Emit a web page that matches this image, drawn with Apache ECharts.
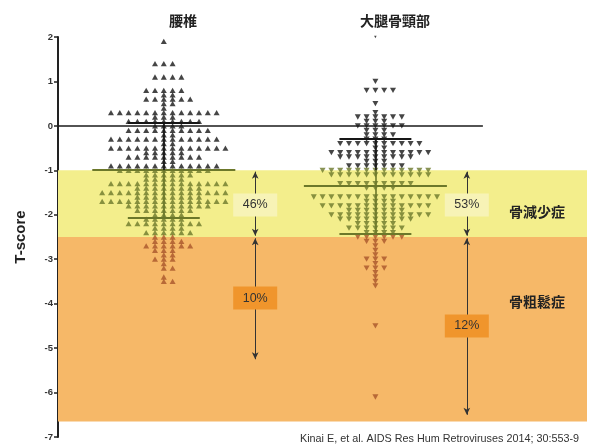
<!DOCTYPE html>
<html>
<head>
<meta charset="utf-8">
<script src="https://cdn.jsdelivr.net/npm/echarts@6/dist/echarts.min.js"></script>
<style>
  html, body { margin: 0; padding: 0; background: #fff; }
  #chart { width: 595px; height: 447px; }
</style>
</head>
<body>
<div id="chart"></div>
<script>
// Column headers
const groups = ['腰椎', '大腿骨頸部'];

// Lumbar spine: T-score rows and number of patients per row
const lumbarT = [1.9, 1.4, 1.1, 0.8, 0.7, 0.6, 0.5, 0.4, 0.3, 0.2, 0.1, 0.0, -0.1, -0.2, -0.3, -0.4, -0.5, -0.6, -0.7, -0.8, -0.9,
  -1.0, -1.1, -1.2, -1.3, -1.4, -1.5, -1.6, -1.7, -1.8, -1.9, -2.0, -2.1, -2.2, -2.3, -2.4,
  -2.5, -2.6, -2.7, -2.8, -2.9, -3.0, -3.1, -3.2, -3.4, -3.5];
const lumbarN = [1, 3, 4, 5, 2, 6, 2, 1, 13, 3, 9, 4, 10, 2, 13, 2, 14, 5, 9, 2, 13,
  11, 6, 5, 14, 8, 15, 8, 15, 10, 7, 4, 5, 9, 4, 6,
  3, 4, 6, 3, 2, 3, 1, 2, 1, 2];

// Femoral neck: T-score rows and number of patients per row
const femoralT = [2.0, 1.0, 0.8, 0.5, 0.3, 0.2, 0.1, 0.0, -0.1, -0.2, -0.3, -0.4, -0.5, -0.6, -0.7, -0.8, -0.9,
  -1.0, -1.1, -1.3, -1.4, -1.6, -1.7, -1.8, -1.9, -2.0, -2.1, -2.2, -2.3, -2.4,
  -2.5, -2.6, -2.7, -2.8, -2.9, -3.0, -3.1, -3.2, -3.3, -3.4, -3.5, -3.6, -4.5, -6.1];
const femoralN = [1, 1, 4, 1, 1, 6, 3, 6, 3, 4, 3, 10, 2, 12, 9, 3, 7,
  13, 12, 9, 4, 15, 4, 13, 7, 12, 9, 5, 7, 4,
  6, 3, 1, 1, 1, 3, 1, 3, 1, 1, 1, 1, 1, 1];

// Mean and SD of each group
const lumbarMean = -0.99, lumbarSD = 1.07;
const femoralMean = -1.35, femoralSD = 1.07;

// Share of patients in each diagnostic range
const lumbarPct = ['46%', '10%'];
const femoralPct = ['53%', '12%'];

// WHO T-score thresholds and range names
const osteopeniaTop = -1.0, osteoporosisTop = -2.5, bandBottom = -6.65;
const rangeNames = ['骨減少症', '骨粗鬆症'];

// Y axis ticks
const yTicks = [2, 1, 0, -1, -2, -3, -4, -5, -6, -7];

const footnote = 'Kinai E, et al. AIDS Res Hum Retroviruses 2014; 30:553-9';

// ---- layout helpers ----
const X_MIN = 0.5, X_MAX = 3.0;
const centers = [1, 2];
const STEP = 0.0416;               // horizontal spacing of dots in one row
const MEAN_HALF = 0.338, CAP_HALF = 0.17;
const ARROW_DX = 0.432;

const BLACK = '#161616', OLIVE = '#6c782a', BROWN = '#a9552a';
const YELLOW = '#f3ee8c', ORANGE = '#f6b868';

function colorFor(v) {
  if (v > osteopeniaTop + 0.05) return BLACK;
  if (v > osteoporosisTop + 0.05) return OLIVE;
  return BROWN;
}

// Spread each row of equal values horizontally around the column centre
function swarm(ts, ns, cx) {
  const pts = [];
  ts.forEach((t, r) => {
    const n = ns[r];
    const start = -Math.floor((n - 1) / 2);
    for (let i = 0; i < n; i++) pts.push([cx + (start + i) * STEP, t]);
  });
  return pts;
}

const lumbarPts = swarm(lumbarT, lumbarN, centers[0]);
const femoralPts = swarm(femoralT, femoralN, centers[1]);

function seg(x1, y1, x2, y2, color, width) {
  return [{ coord: [x1, y1], lineStyle: { color: color, width: width, type: 'solid' } }, { coord: [x2, y2] }];
}

// Mean line, SD caps and the SD whisker (split where it crosses into the band)
function statLines(cx, mean, sd) {
  const hi = mean + sd, lo = mean - sd;
  const out = [
    seg(cx - MEAN_HALF, mean, cx + MEAN_HALF, mean, colorFor(mean), 2),
    seg(cx - CAP_HALF, hi, cx + CAP_HALF, hi, colorFor(hi), 2),
    seg(cx - CAP_HALF, lo, cx + CAP_HALF, lo, colorFor(lo), 2)
  ];
  if (hi > osteopeniaTop && lo < osteopeniaTop) {
    out.push(seg(cx, hi, cx, osteopeniaTop, BLACK, 1.6));
    out.push(seg(cx, osteopeniaTop, cx, lo, OLIVE, 1.6));
  } else {
    out.push(seg(cx, hi, cx, lo, colorFor(mean), 1.6));
  }
  return out;
}

function arrows(cx, lowEnd) {
  const ax = cx + ARROW_DX;
  return [
    [{ coord: [ax, osteopeniaTop - 0.03] }, { coord: [ax, osteoporosisTop + 0.03] }],
    [{ coord: [ax, osteoporosisTop - 0.03] }, { coord: [ax, lowEnd] }]
  ];
}

function boxes(cx, pcts, lowEnd) {
  const ax = cx + ARROW_DX;
  const mk = (y, text, fill) => ({
    coord: [ax, y], symbol: 'rect', symbolSize: [44, 23],
    itemStyle: { color: fill },
    label: { show: true, formatter: text, color: '#333', fontSize: 12.5, fontFamily: 'Liberation Sans, Arial, sans-serif' }
  });
  return [
    mk((osteopeniaTop + osteoporosisTop) / 2 - 0.03, pcts[0], '#f7f3b6'),
    mk((osteoporosisTop + lowEnd) / 2, pcts[1], '#f0952c')
  ];
}

const lumbarArrowEnd = -5.25, femoralArrowEnd = -6.5;

const chart = echarts.init(document.getElementById('chart'), null, { renderer: 'canvas' });

const option = {
  animation: false,
  grid: { left: 58, right: 8, top: 37, bottom: 10, containLabel: false },
  xAxis: { type: 'value', min: X_MIN, max: X_MAX, show: false },
  yAxis: {
    type: 'value', min: yTicks[yTicks.length - 1], max: yTicks[0], interval: 1,
    name: 'T-score', nameLocation: 'middle', nameRotate: 90, nameGap: 30,
    nameTextStyle: { fontSize: 15, fontWeight: 'bold', color: '#222', fontFamily: 'Liberation Sans, Arial, sans-serif' },
    axisLine: { show: true, onZero: false, lineStyle: { color: '#222', width: 2 } },
    axisTick: { show: true, length: 4, lineStyle: { color: '#222', width: 1.5 } },
    axisLabel: { fontSize: 9.5, fontWeight: 'bold', color: '#333', margin: 5, fontFamily: 'Liberation Sans, Arial, sans-serif' },
    splitLine: { show: false }
  },
  graphic: [
    { type: 'text', left: 169, top: 14, style: { text: groups[0], font: 'bold 14px "Noto Sans CJK JP"', fill: '#222', textAlign: 'center', textVerticalAlign: 'middle' } },
    { type: 'text', left: 360, top: 14, style: { text: groups[1], font: 'bold 14px "Noto Sans CJK JP"', fill: '#222', textAlign: 'center', textVerticalAlign: 'middle' } },
    { type: 'text', left: 300, top: 434, style: { text: footnote, font: '10.8px "Liberation Sans", Arial, sans-serif', fill: '#333' } }
  ],
  series: [
    {
      // diagnostic ranges
      type: 'line', data: [], z: 0, silent: true,
      markArea: {
        silent: true,
        data: [
          [{ coord: [X_MIN, osteopeniaTop], itemStyle: { color: YELLOW } }, { coord: [X_MAX, osteoporosisTop] }],
          [{ coord: [X_MIN, osteoporosisTop], itemStyle: { color: ORANGE } }, { coord: [X_MAX, bandBottom] }]
        ]
      },
      markPoint: {
        silent: true, symbol: 'rect', symbolSize: 1,
        data: rangeNames.map((name, i) => ({
          coord: [2.764, i === 0 ? -1.94 : -3.96],
          itemStyle: { color: 'rgba(0,0,0,0)' },
          label: { show: true, formatter: name, color: '#222', fontSize: 14, fontWeight: 'bold', fontFamily: '"Noto Sans CJK JP"' }
        }))
      }
    },
    {
      // reference line at T = 0
      type: 'line', data: [], z: 1, silent: true,
      markLine: {
        silent: true, symbol: ['none', 'none'], label: { show: false },
        data: [seg(X_MIN, 0, 2.508, 0, '#1a1a1a', 1.6)]
      }
    },
    {
      name: groups[0], type: 'scatter', z: 2, data: lumbarPts,
      symbol: 'triangle', symbolSize: [6, 5.3],
      itemStyle: { color: p => colorFor(p.value[1]) }
    },
    {
      name: groups[1], type: 'scatter', z: 2, data: femoralPts,
      symbol: 'triangle', symbolRotate: 180,
      symbolSize: v => (v[1] >= yTicks[0] ? [2.5, 2.5] : [6, 5.3]),
      itemStyle: { color: p => colorFor(p.value[1]) }
    },
    {
      // mean ± SD
      type: 'line', data: [], z: 3, silent: true,
      markLine: {
        silent: true, symbol: ['none', 'none'], label: { show: false },
        data: statLines(centers[0], lumbarMean, lumbarSD).concat(statLines(centers[1], femoralMean, femoralSD))
      }
    },
    {
      // range arrows and percentage labels
      type: 'line', data: [], z: 4, silent: true,
      markLine: {
        silent: true, symbol: ['arrow', 'arrow'], symbolSize: [5, 7], label: { show: false },
        lineStyle: { color: '#333', width: 1, type: 'solid' },
        data: arrows(centers[0], lumbarArrowEnd).concat(arrows(centers[1], femoralArrowEnd))
      },
      markPoint: {
        silent: true,
        data: boxes(centers[0], lumbarPct, lumbarArrowEnd).concat(boxes(centers[1], femoralPct, femoralArrowEnd))
      }
    }
  ]
};

chart.setOption(option);
</script>
</body>
</html>
